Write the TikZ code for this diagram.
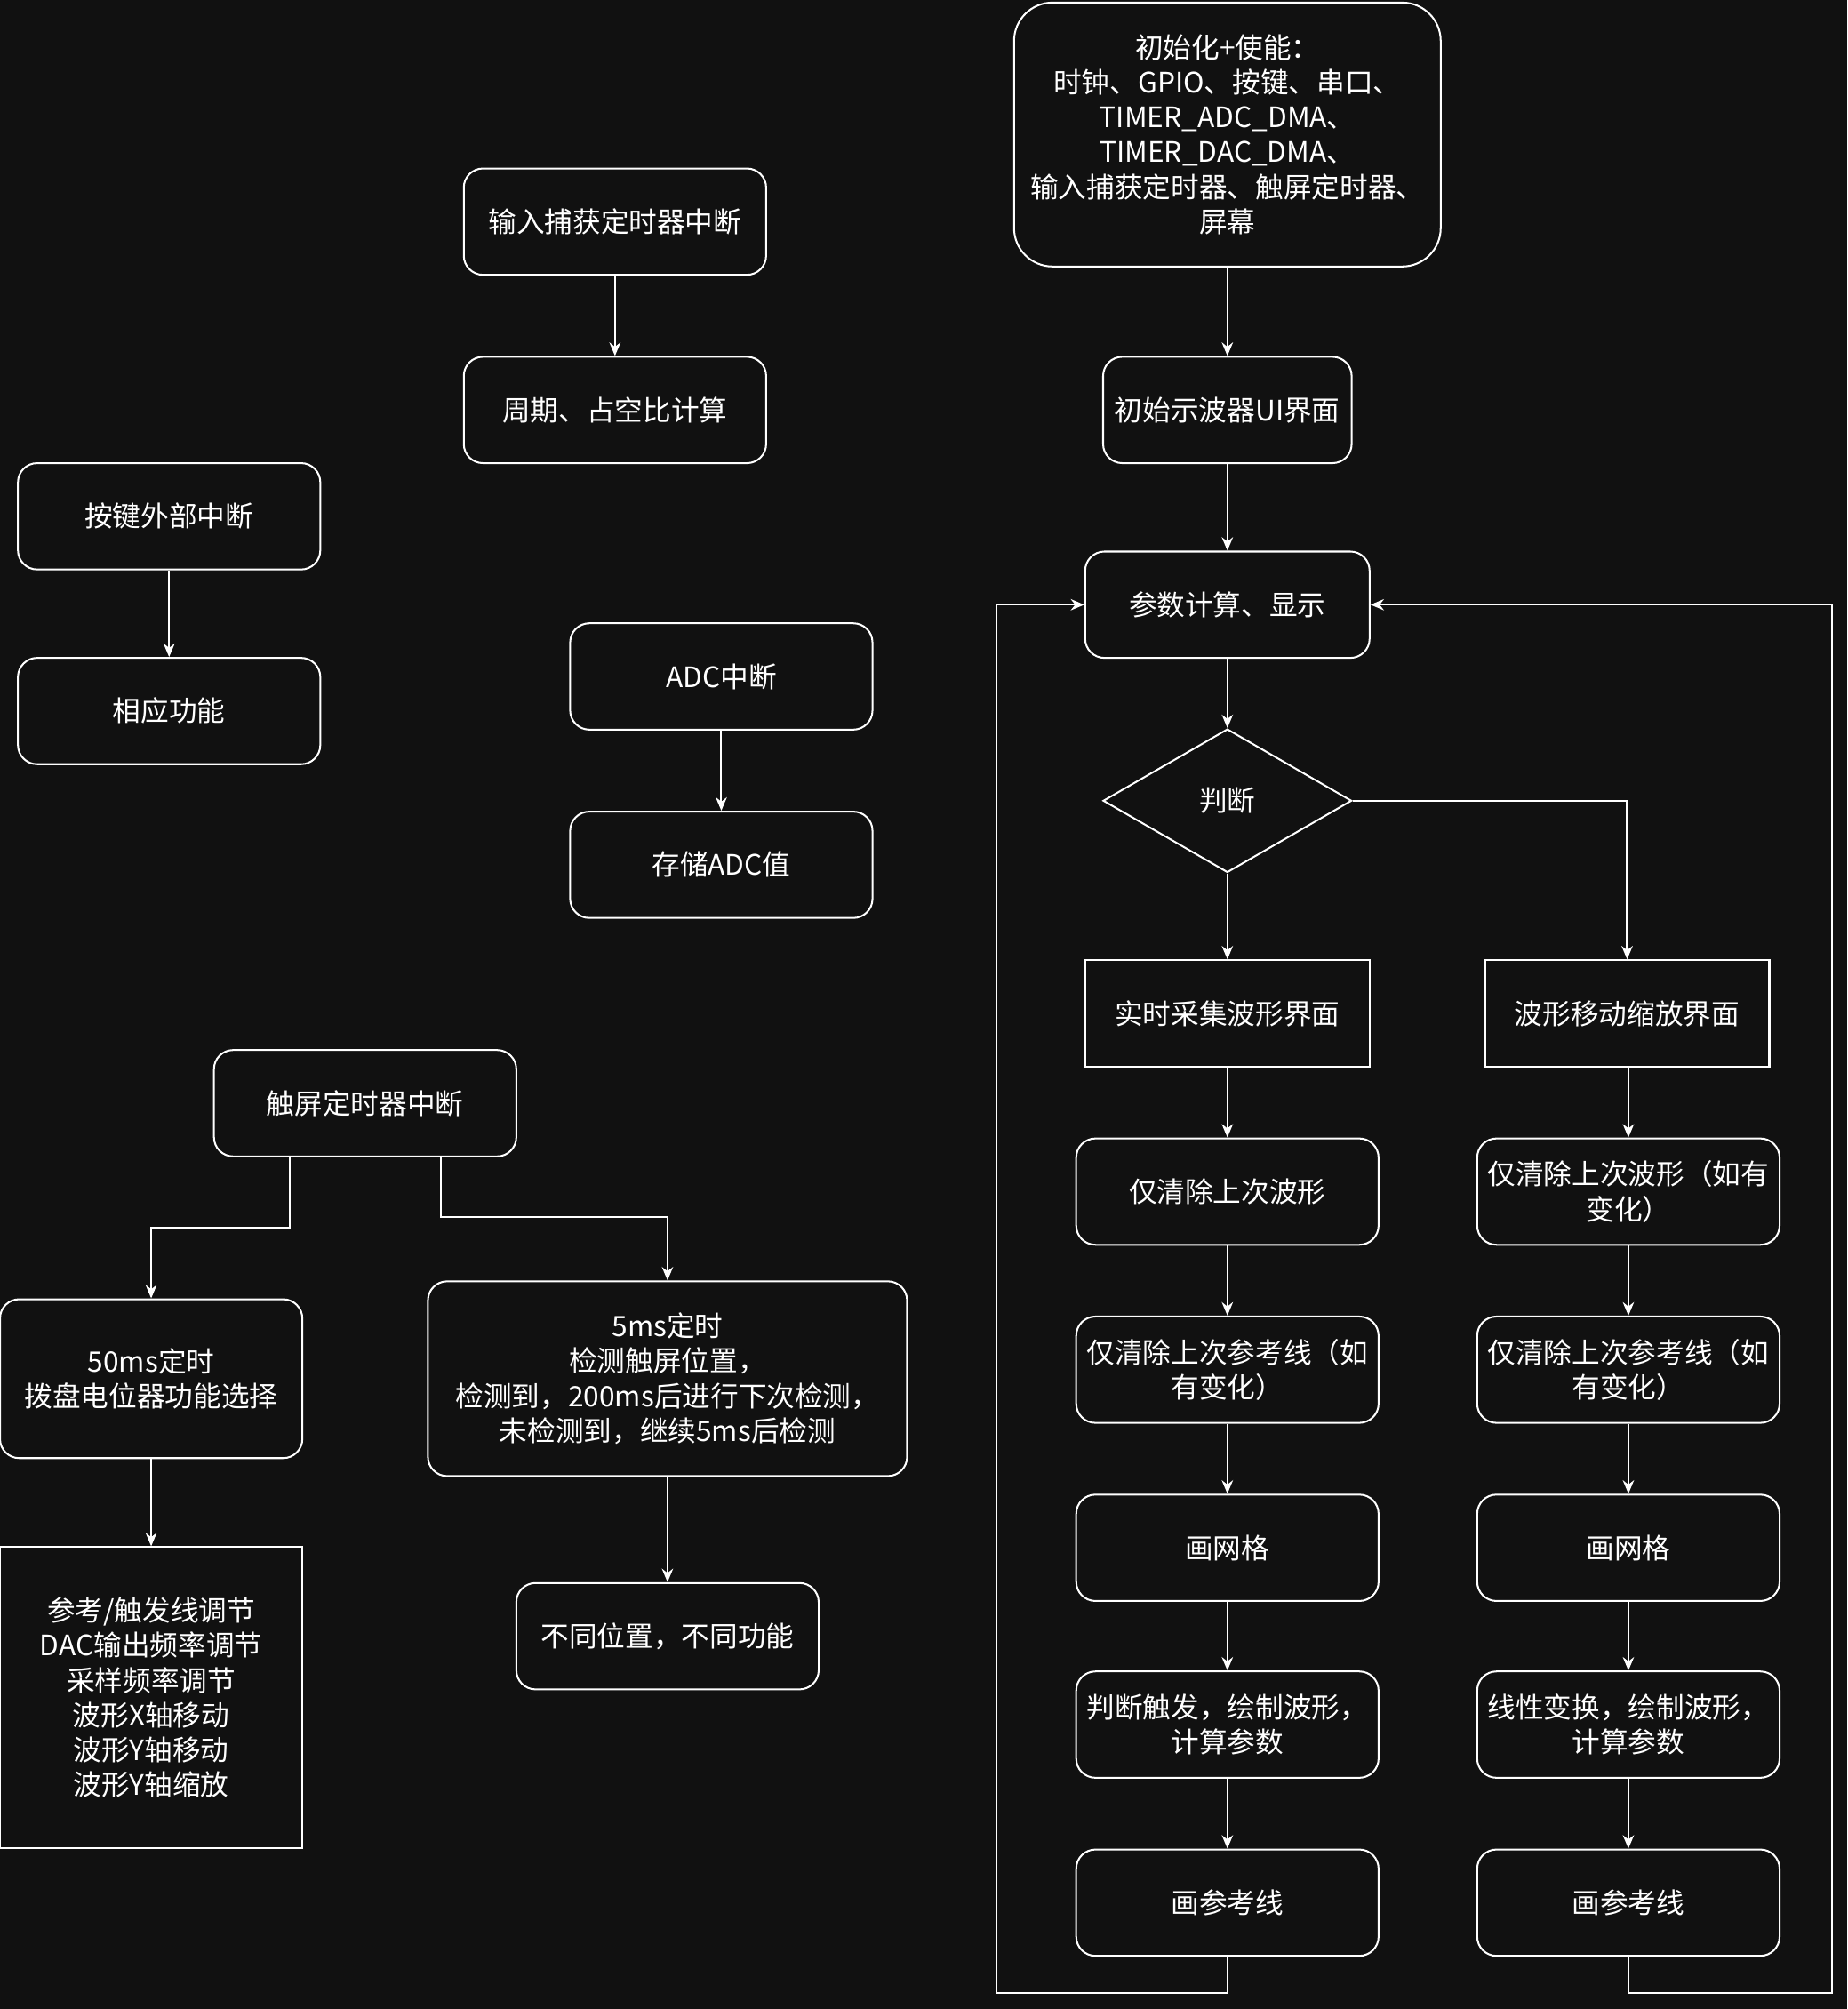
\documentclass[tikz,border=0pt]{standalone}
\usepackage{fontspec}
\setmainfont{Noto Sans CJK SC}
\usetikzlibrary{shapes.geometric,arrows.meta}

\begin{document}
\begin{tikzpicture}[x=0.02cm, y=-0.02cm,
    font=\fontsize{12.5}{15.5}\selectfont, color=white,
    box/.style={draw=white, thick, rounded corners=0.3cm, align=center, inner sep=2pt, text=white},
    sqbox/.style={draw=white, thick, align=center, inner sep=2pt, text=white},
    arr/.style={draw=white, thick, -{Stealth[length=6pt,width=5pt]}}]

    % background
    \fill[fill={rgb,255:red,17;green,17;blue,17}] (0,0) rectangle (1442,1568);
    \useasboundingbox (0,0) rectangle (1442,1568);

    % Main flow
    \node[box, rounded corners=0.6cm, minimum width=333*0.02cm, minimum height=206*0.02cm] (init) at (958,105)
        {初始化+使能：\\时钟、GPIO、按键、串口、\\TIMER\_ADC\_DMA、\\TIMER\_DAC\_DMA、\\输入捕获定时器、触屏定时器、\\屏幕};
    \node[box, minimum width=194*0.02cm, minimum height=83*0.02cm] (ui) at (958,320) {初始示波器UI界面};
    \node[box, minimum width=222*0.02cm, minimum height=83*0.02cm] (param) at (958,472) {参数计算、显示};
    \node[draw=white, thick, diamond, aspect=1.73, minimum width=194*0.02cm, minimum height=112*0.02cm, inner sep=0pt] (judge) at (958,625) {判断};
    \node[sqbox, minimum width=222*0.02cm, minimum height=83*0.02cm] (rt) at (958,791) {实时采集波形界面};
    \node[sqbox, minimum width=222*0.02cm, minimum height=83*0.02cm] (mv) at (1270,791) {波形移动缩放界面};

    % Left branch
    \foreach \n/\y/\t in {l1/930/仅清除上次波形, l2/1069/{仅清除上次参考线（如\\有变化）}, l3/1208/画网格, l4/1346/{判断触发，绘制波形，\\计算参数}, l5/1485/画参考线}
        \node[box, minimum width=236*0.02cm, minimum height=83*0.02cm] (\n) at (958,\y) {\t};
    % Right branch
    \foreach \n/\y/\t in {r1/930/{仅清除上次波形（如有\\变化）}, r2/1069/{仅清除上次参考线（如\\有变化）}, r3/1208/画网格, r4/1346/{线性变换，绘制波形，\\计算参数}, r5/1485/画参考线}
        \node[box, minimum width=236*0.02cm, minimum height=83*0.02cm] (\n) at (1271,\y) {\t};

    \draw[arr] (init) -- (ui);
    \draw[arr] (ui) -- (param);
    \draw[arr] (param) -- (judge);
    \draw[arr] (judge) -- (rt);
    \draw[arr] (judge.east) -| (mv.north);
    \draw[arr] (rt) -- (l1);
    \draw[arr] (l1) -- (l2);
    \draw[arr] (l2) -- (l3);
    \draw[arr] (l3) -- (l4);
    \draw[arr] (l4) -- (l5);
    \draw[arr] (mv.south -| r1) -- (r1);
    \draw[arr] (r1) -- (r2);
    \draw[arr] (r2) -- (r3);
    \draw[arr] (r3) -- (r4);
    \draw[arr] (r4) -- (r5);

    % Loops back
    \draw[arr] (l5.south) -- ++(0,28) -| (778,472) -- (param.west);
    \draw[arr] (r5.south) -- ++(0,28) -| (1430,472) -- (param.east);

    % Interrupts
    \node[box, minimum width=236*0.02cm, minimum height=83*0.02cm] (cap) at (480,173) {输入捕获定时器中断};
    \node[box, minimum width=236*0.02cm, minimum height=83*0.02cm] (period) at (480,320) {周期、占空比计算};
    \node[box, minimum width=236*0.02cm, minimum height=83*0.02cm] (key) at (132,403) {按键外部中断};
    \node[box, minimum width=236*0.02cm, minimum height=83*0.02cm] (func) at (132,555) {相应功能};
    \node[box, minimum width=236*0.02cm, minimum height=83*0.02cm] (adc) at (563,528) {ADC中断};
    \node[box, minimum width=236*0.02cm, minimum height=83*0.02cm] (store) at (563,675) {存储ADC值};

    \draw[arr] (cap) -- (period);
    \draw[arr] (key) -- (func);
    \draw[arr] (adc) -- (store);

    % Touch screen
    \node[box, minimum width=236*0.02cm, minimum height=83*0.02cm] (touch) at (285,861) {触屏定时器中断};
    \node[box, minimum width=236*0.02cm, minimum height=124*0.02cm] (t50) at (118,1076) {50ms定时\\拨盘电位器功能选择};
    \node[box, minimum width=374*0.02cm, minimum height=152*0.02cm] (t5) at (521,1076)
        {5ms定时\\检测触屏位置，\\检测到，200ms后进行下次检测，\\未检测到，继续5ms后检测};
    \node[sqbox, minimum width=236*0.02cm, minimum height=235*0.02cm] (list) at (118,1325)
        {参考/触发线调节\\DAC输出频率调节\\采样频率调节\\波形X轴移动\\波形Y轴移动\\波形Y轴缩放};
    \node[box, minimum width=236*0.02cm, minimum height=83*0.02cm] (diff) at (521,1277) {不同位置，不同功能};

    \draw[arr] (226,902) -- (226,958) -| (t50.north);
    \draw[arr] (344,902) -- (344,950) -| (t5.north);
    \draw[arr] (t50) -- (list);
    \draw[arr] (t5) -- (diff);

\end{tikzpicture}
\end{document}
